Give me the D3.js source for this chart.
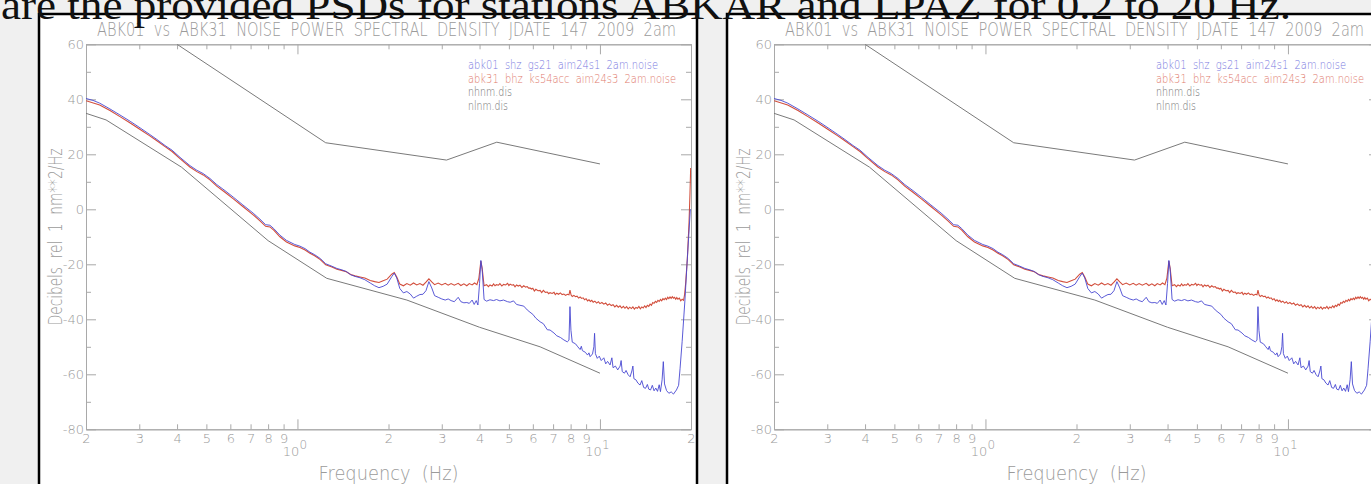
<!DOCTYPE html>
<meta charset="utf-8">

<script src="https://d3js.org/d3.v7.min.js"></script>

<style type="text/css">

body {
  margin: 0;
  background: #f0f0f0;
  overflow: hidden;
}

text {
  font-family: "DejaVu Sans", sans-serif;
  white-space: pre;
}

.slideText {
  font-family: "Liberation Serif", serif;
  font-size: 41px;
  fill: #111;
}

.plotTitle, .axisTitle {
  font-weight: 200;
  fill: #9a9a9a;
  opacity: 0.99;
}

.axis path,
.axis line {
  stroke: #a9a9a9;
  stroke-width: 1px;
}

.axis text {
  font-family: "DejaVu Sans", sans-serif;
  font-weight: 200;
  font-size: 13px;
  fill: #999;
  opacity: 0.99;
}

.legend {
  font-size: 13px;
  font-weight: 200;
  opacity: 0.99;
}

.panel {
  fill: white;
  stroke: black;
  stroke-width: 2.5px;
}

</style>

<body>
  <div id="chart"></div>
</body>

<script>

  // ---------------------------//
  //            DATA            //
  // ---------------------------//

const yMajor = [-80, -60, -40, -20, 0, 20, 40, 60]
const yMinor = [-70, -50, -30, -10, 10, 30, 50]
const xMinor = [0.2, 0.3, 0.4, 0.5, 0.6, 0.7, 0.8, 0.9, 2, 3, 4, 5, 6, 7, 8, 9, 20]
const xMinorLabels = ["2", "3", "4", "5", "6", "7", "8", "9", "2", "3", "4", "5", "6", "7", "8", "9", "2"]
const xDecades = [1, 10]
const xDecadeExp = ["0", "1"]

const legendLabels = [
  "abk01  shz  gs21  aim24s1  2am.noise",
  "abk31  bhz  ks54acc  aim24s3  2am.noise",
  "nhnm.dis",
  "nlnm.dis"
]

// [frequency Hz, dB]
const nhnm = [[0.4, 60], [1.24, 24.2], [3.11, 17.9], [4.56, 24.4], [10.0, 16.5]]

const nlnm = [[0.2, 34.9], [0.233, 32.5], [0.414, 15.3], [0.8, -11.4], [1.25, -25.1],
  [2.3, -33.0], [4.0, -42.9], [6.34, -50.0], [10.0, -59.6]]

const abk01 = [
  [0.200, 40.3], [0.211, 39.6], [0.222, 38.6], [0.240, 36.5], [0.259, 34.3], [0.280, 32.0],
  [0.302, 29.6], [0.325, 27.2], [0.343, 25.4], [0.365, 23.2], [0.385, 21.5], [0.409, 18.9],
  [0.441, 15.9], [0.465, 14.2], [0.488, 13.0], [0.514, 11.2], [0.541, 9.0], [0.576, 6.8],
  [0.614, 4.4], [0.66, 1.6], [0.714, -1.4], [0.752, -3.6], [0.785, -5.6], [0.811, -5.8],
  [0.835, -7.0], [0.875, -9.4], [0.92, -11.3], [0.98, -12.8], [1.019, -13.4], [1.06, -14.3],
  [1.10, -15.6], [1.14, -16.5], [1.19, -17.9], [1.24, -19.8], [1.30, -20.7], [1.35, -21.5],
  [1.40, -22.0], [1.45, -22.6], [1.50, -23.8], [1.55, -24.4], [1.61, -24.9], [1.67, -25.6],
  [1.74, -26.8], [1.80, -27.8], [1.86, -28.5], [1.92, -28.0], [1.98, -27.2], [2.05, -24.5],
  [2.09, -23.2], [2.13, -25.0], [2.18, -28.8], [2.24, -30.4], [2.30, -29.9], [2.36, -30.8],
  [2.42, -32.3], [2.48, -31.6], [2.54, -31.0], [2.60, -30.9], [2.66, -29.6], [2.72, -26.3],
  [2.78, -28.6], [2.84, -31.4], [2.92, -32.0], [3.00, -32.6], [3.08, -33.0], [3.15, -32.6],
  [3.22, -33.2], [3.30, -33.6], [3.40, -32.0], [3.47, -33.6], [3.55, -34.0], [3.63, -33.9],
  [3.70, -34.2], [3.78, -33.0], [3.84, -34.6], [3.90, -33.2], [3.95, -34.8], [4.00, -27.0],
  [4.04, -18.6], [4.08, -22.0], [4.14, -32.8], [4.22, -33.4], [4.33, -32.9], [4.45, -33.2],
  [4.55, -32.8], [4.67, -33.3], [4.80, -33.0], [4.95, -33.6], [5.05, -33.8], [5.18, -33.3],
  [5.30, -34.6], [5.44, -34.9], [5.60, -35.2], [5.75, -36.6], [5.87, -37.4], [6.00, -38.2],
  [6.14, -39.6], [6.34, -40.9], [6.50, -41.6], [6.70, -43.8], [6.84, -43.9], [7.05, -45.0],
  [7.20, -46.0], [7.40, -46.6], [7.60, -47.5], [7.80, -48.2], [7.90, -47.6], [7.96, -35.4],
  [8.02, -44.0], [8.10, -48.3], [8.30, -48.9], [8.45, -50.0], [8.60, -51.0], [8.68, -49.8],
  [8.75, -51.4], [8.95, -52.0], [9.10, -53.0], [9.20, -52.2], [9.28, -53.6], [9.45, -52.6],
  [9.55, -50.0], [9.60, -45.1], [9.66, -52.5], [9.80, -54.2], [9.95, -53.4], [10.1, -55.0],
  [10.3, -54.0], [10.45, -56.2], [10.6, -55.3], [10.8, -56.6], [10.95, -54.0], [11.05, -57.6],
  [11.25, -57.0], [11.45, -58.4], [11.66, -57.0], [11.75, -55.0], [11.85, -59.0], [12.05, -59.6],
  [12.2, -58.6], [12.4, -60.2], [12.58, -60.9], [12.75, -58.8], [12.85, -57.0], [12.95, -61.6],
  [13.15, -62.0], [13.35, -63.2], [13.57, -63.9], [13.75, -62.3], [13.95, -64.8], [14.15, -65.1],
  [14.35, -63.7], [14.5, -65.4], [14.7, -65.7], [14.9, -64.0], [15.1, -66.0], [15.3, -65.0],
  [15.5, -66.2], [15.7, -63.8], [15.85, -66.3], [16.05, -62.0], [16.2, -55.4], [16.35, -63.5],
  [16.6, -65.9], [16.9, -66.9], [17.2, -66.4], [17.5, -67.2], [17.9, -65.7], [18.2, -64.0],
  [18.4, -58.0], [18.7, -48.0], [19.1, -33.0], [19.4, -20.0], [19.65, -10.0], [19.9, 0.0]
]

const abk31 = [
  [0.200, 39.5], [0.222, 37.9], [0.240, 35.9], [0.259, 33.7], [0.280, 31.4], [0.302, 29.0],
  [0.325, 26.7], [0.343, 24.9], [0.365, 22.8], [0.385, 21.0], [0.409, 18.4], [0.441, 15.4],
  [0.465, 13.7], [0.488, 12.5], [0.514, 10.7], [0.541, 8.4], [0.576, 6.2], [0.614, 3.8],
  [0.66, 1.0], [0.714, -2.0], [0.752, -4.2], [0.785, -6.2], [0.811, -6.4], [0.835, -7.6],
  [0.875, -10.0], [0.92, -11.9], [0.98, -13.3], [1.019, -13.9], [1.06, -14.8], [1.10, -16.0],
  [1.14, -16.9], [1.19, -18.3], [1.24, -20.2], [1.30, -21.0], [1.35, -21.8], [1.40, -22.2],
  [1.45, -22.7], [1.50, -23.7], [1.55, -24.2], [1.61, -24.6], [1.67, -25.0], [1.74, -25.9],
  [1.80, -26.3], [1.86, -26.6], [1.92, -26.0], [1.98, -25.4], [2.05, -23.6], [2.09, -23.0],
  [2.13, -24.6], [2.18, -27.2], [2.24, -27.8], [2.30, -27.0], [2.36, -27.6], [2.42, -26.8],
  [2.48, -27.5], [2.54, -27.0], [2.60, -27.6], [2.66, -26.5], [2.72, -25.3], [2.78, -26.4],
  [2.84, -27.4], [2.92, -26.8], [3.00, -27.5], [3.08, -26.9], [3.15, -27.6], [3.22, -27.0],
  [3.30, -27.6], [3.40, -26.9], [3.47, -27.7], [3.55, -27.1], [3.63, -27.8], [3.70, -27.0],
  [3.78, -27.5], [3.85, -26.8], [3.92, -27.4], [3.98, -25.0], [4.04, -18.8], [4.08, -21.5],
  [4.14, -27.8], [4.22, -27.4], [4.28, -28.1], [4.33, -27.5], [4.40, -27.9], [4.45, -27.1],
  [4.50, -27.8], [4.55, -27.4], [4.62, -27.6], [4.67, -27.0], [4.74, -27.9], [4.80, -27.3],
  [4.88, -27.5], [4.95, -26.9], [5.00, -27.7], [5.05, -27.2], [5.12, -27.6], [5.18, -27.4],
  [5.24, -28.2], [5.30, -27.5], [5.37, -27.9], [5.44, -27.6], [5.52, -28.4], [5.60, -27.8],
  [5.68, -28.3], [5.75, -28.1], [5.81, -28.7], [5.87, -28.6], [5.94, -29.0], [6.00, -28.7],
  [6.07, -29.7], [6.14, -29.1], [6.24, -29.6], [6.34, -29.5], [6.42, -30.3], [6.50, -29.5],
  [6.60, -30.2], [6.70, -30.1], [6.77, -30.7], [6.84, -30.3], [6.95, -30.6], [7.05, -30.2],
  [7.12, -31.0], [7.20, -30.5], [7.30, -30.9], [7.40, -30.4], [7.50, -31.0], [7.60, -30.8],
  [7.70, -31.3], [7.80, -30.9], [7.90, -31.1], [7.96, -29.4], [8.03, -31.2], [8.10, -31.7],
  [8.20, -31.3], [8.30, -31.8], [8.40, -31.6], [8.50, -32.3], [8.60, -31.9], [8.70, -32.4],
  [8.80, -32.2], [8.90, -32.9], [9.00, -32.5], [9.10, -33.3], [9.20, -32.9], [9.30, -33.5],
  [9.40, -33.1], [9.50, -33.8], [9.62, -33.4], [9.75, -34.1], [9.88, -33.6], [10.0, -34.3],
  [10.15, -33.9], [10.3, -34.5], [10.45, -34.1], [10.6, -34.9], [10.75, -34.4], [10.9, -35.0],
  [11.05, -34.7], [11.2, -35.5], [11.35, -34.9], [11.5, -35.6], [11.65, -35.1], [11.8, -35.9],
  [11.95, -35.3], [12.1, -36.0], [12.25, -35.4], [12.4, -36.2], [12.55, -35.6], [12.7, -36.1],
  [12.85, -35.5], [13.0, -36.3], [13.15, -35.7], [13.3, -36.0], [13.45, -35.3], [13.6, -36.2],
  [13.75, -35.5], [13.9, -35.9], [14.05, -35.1], [14.2, -35.7], [14.35, -34.9], [14.5, -35.3],
  [14.65, -34.5], [14.8, -34.9], [14.95, -33.9], [15.1, -34.2], [15.25, -33.5], [15.4, -33.9],
  [15.55, -33.1], [15.7, -33.5], [15.85, -32.8], [16.0, -33.3], [16.15, -32.5], [16.3, -32.9],
  [16.45, -32.3], [16.6, -32.8], [16.75, -32.0], [16.9, -32.5], [17.05, -31.9], [17.2, -32.4],
  [17.35, -31.8], [17.5, -32.3], [17.65, -32.0], [17.8, -32.7], [17.95, -32.1], [18.1, -32.7],
  [18.3, -32.3], [18.5, -33.3], [18.7, -32.7], [18.9, -33.1], [19.05, -31.0], [19.2, -27.0],
  [19.45, -18.0], [19.7, -5.0], [19.85, 6.0], [19.95, 15.0]
]

  // ---------------------------//
  //           LAYOUT           //
  // ---------------------------//

const outerWidth = 1371
const outerHeight = 484
const panelLefts = [39, 727]
const panelTop = 14
const panelWidth = 658
const plot = {left: 47, right: 652, top: 44.3, bottom: 429.3}

const SVG = d3.select("#chart").append("svg")
  .attr("width", outerWidth)
  .attr("height", outerHeight)

const x = d3.scaleLog().domain([0.2, 20]).range([plot.left, plot.right])
const y = d3.scaleLinear().domain([-80, 60]).range([plot.bottom, plot.top])

const line = d3.line()
  .x(d => x(d[0]))
  .y(d => y(d[1]))

function drawPanel(left, idx) {

  const g = SVG.append("g").attr("transform", "translate(" + left + ",0)")

  g.append("rect")
    .attr("x", 0)
    .attr("y", panelTop)
    .attr("width", panelWidth)
    .attr("height", outerHeight)
    .classed("panel", true)

  // title
  g.append("text")
    .attr("x", 58)
    .attr("y", 35.5)
    .attr("textLength", 579)
    .attr("lengthAdjust", "spacingAndGlyphs")
    .style("font-size", "20px")
    .classed("plotTitle", true)
    .text("ABK01  vs  ABK31  NOISE  POWER  SPECTRAL  DENSITY  JDATE  147  2009  2am")

  // ---- axes ----
  g.append("g").classed("axis", true)
    .attr("transform", "translate(" + plot.left + ",0)")
    .call(d3.axisLeft(y).tickValues(yMajor).tickSize(-10).tickSizeOuter(0)
      .tickPadding(2).tickFormat(d => String(d)))

  g.append("g").classed("axis", true)
    .attr("transform", "translate(" + plot.left + ",0)")
    .call(d3.axisLeft(y).tickValues(yMinor).tickSize(-5).tickSizeOuter(0).tickFormat(""))

  g.append("g").classed("axis", true)
    .attr("transform", "translate(" + plot.right + ",0)")
    .call(d3.axisRight(y).tickValues(yMajor).tickSize(-10).tickSizeOuter(0).tickFormat(""))

  g.append("g").classed("axis", true)
    .attr("transform", "translate(" + plot.right + ",0)")
    .call(d3.axisRight(y).tickValues(yMinor).tickSize(-5).tickSizeOuter(0).tickFormat(""))

  g.append("g").classed("axis", true)
    .attr("transform", "translate(0," + plot.bottom + ")")
    .call(d3.axisBottom(x).tickValues(xMinor).tickSize(-5).tickSizeOuter(0)
      .tickPadding(4).tickFormat((d, i) => xMinorLabels[i]))

  const decAxis = g.append("g").classed("axis", true)
    .attr("transform", "translate(0," + plot.bottom + ")")
    .call(d3.axisBottom(x).tickValues(xDecades).tickSize(-10).tickSizeOuter(0).tickFormat(""))

  decAxis.selectAll(".tick text")
    .attr("y", 27)
    .attr("dy", 0)
    .attr("x", -3)
    .each(function (d, i) {
      const t = d3.select(this)
      t.append("tspan").text("10")
      t.append("tspan").attr("dy", -7).style("font-size", "12px").text(xDecadeExp[i])
    })

  g.append("g").classed("axis", true)
    .attr("transform", "translate(0," + plot.top + ")")
    .call(d3.axisTop(x).tickValues(xMinor).tickSize(-5).tickSizeOuter(0).tickFormat(""))

  g.append("g").classed("axis", true)
    .attr("transform", "translate(0," + plot.top + ")")
    .call(d3.axisTop(x).tickValues(xDecades).tickSize(-10).tickSizeOuter(0).tickFormat(""))

  // axis titles
  g.append("text")
    .attr("x", (plot.left + plot.right) / 2)
    .attr("y", 480)
    .attr("text-anchor", "middle")
    .attr("textLength", 140)
    .attr("lengthAdjust", "spacingAndGlyphs")
    .style("font-size", "19px")
    .classed("axisTitle", true)
    .text("Frequency  (Hz)")

  g.append("text")
    .attr("transform", "translate(23," + (plot.top + plot.bottom) / 2 + ") rotate(-90)")
    .attr("text-anchor", "middle")
    .attr("textLength", 177)
    .attr("lengthAdjust", "spacingAndGlyphs")
    .style("font-size", "20px")
    .classed("axisTitle", true)
    .text("Decibels  rel  1  nm**2/Hz")

  // ---- lines ----
  g.append("clipPath").attr("id", "clip" + idx)
    .append("rect")
    .attr("x", plot.left).attr("y", plot.top)
    .attr("width", plot.right - plot.left).attr("height", plot.bottom - plot.top)

  const lines = g.append("g").attr("clip-path", "url(#clip" + idx + ")")

  lines.append("path").datum(nhnm).attr("d", line)
    .attr("fill", "none").attr("stroke", "#7a7a7a").attr("stroke-width", 1)

  lines.append("path").datum(nlnm).attr("d", line)
    .attr("fill", "none").attr("stroke", "#7a7a7a").attr("stroke-width", 1)

  lines.append("path").datum(abk31).attr("d", line)
    .attr("fill", "none").attr("stroke", "#d24e3c").attr("stroke-width", 1.1)

  lines.append("path").datum(abk01).attr("d", line)
    .attr("fill", "none").attr("stroke", "#4848d2").attr("stroke-width", 1).attr("opacity", 0.9)

  // ---- legend ----
  const legendColors = ["#7878e0", "#e07a6c", "#6e6e6e", "#6e6e6e"]
  const legendWidths = [190, 208, 44, 40]

  g.selectAll(".legend")
    .data(legendLabels)
    .enter()
    .append("text")
    .classed("legend", true)
    .attr("x", 429)
    .attr("y", (d, i) => 69 + i * 13.7)
    .attr("textLength", (d, i) => legendWidths[i])
    .attr("lengthAdjust", "spacingAndGlyphs")
    .attr("fill", (d, i) => legendColors[i])
    .text(d => d)
}

panelLefts.forEach((left, i) => drawPanel(left, i))

// slide text, cut off at the top, lying over the panels
SVG.append("text")
  .attr("x", 1)
  .attr("y", 19)
  .attr("textLength", 1290)
  .attr("lengthAdjust", "spacingAndGlyphs")
  .classed("slideText", true)
  .text("are the provided PSDs for stations ABKAR and LPAZ for 0.2 to 20 Hz.")

</script>
